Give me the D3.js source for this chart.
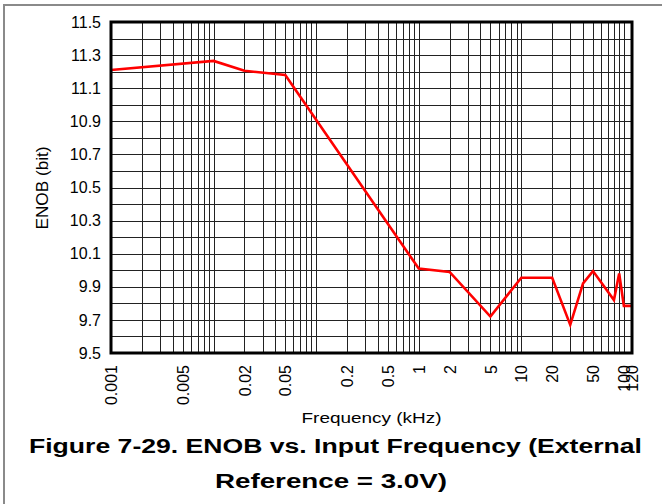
<!DOCTYPE html>
<html>
<head>
<meta charset="utf-8">
<script src="https://cdn.jsdelivr.net/npm/d3@7"></script>
<style>
  body { margin: 0; background: #fff; }
  svg { display: block; font-family: "Liberation Sans", Arial, sans-serif; }
  .tick line { display: none; }
  .domain { display: none; }
</style>
</head>
<body>
<div id="chart"></div>
<script>
// data
var freqKHz = [0.001, 0.01, 0.02, 0.05, 1, 2, 5, 10, 20, 30, 40, 50, 80, 90, 100, 120];
var enobBits = [11.21, 11.265, 11.205, 11.18, 10.01, 9.99, 9.72, 9.955, 9.955, 9.67, 9.92, 9.995, 9.82, 9.98, 9.785, 9.785];

// tick labels
var xTickValues = [0.001, 0.005, 0.02, 0.05, 0.2, 0.5, 1, 2, 5, 10, 20, 50, 100, 120];
var xTickLabels = ["0.001", "0.005", "0.02", "0.05", "0.2", "0.5", "1", "2", "5", "10", "20", "50", "100", "120"];
var yTickValues = [9.5, 9.7, 9.9, 10.1, 10.3, 10.5, 10.7, 10.9, 11.1, 11.3, 11.5];

//svg size
var svgWidth = 662;
var svgHeight = 504;
var plot = { left: 111, top: 22, right: 632, bottom: 353 };

var svg = d3.select("#chart")
    .append("svg")
    .attr("width", svgWidth)
    .attr("height", svgHeight);

//outer frame (top + left only)
svg.append("path")
    .attr("d", "M4,504 V5 H662")
    .attr("fill", "none")
    .attr("stroke", "#8a8a8a")
    .attr("stroke-width", 2);

//scales
var xScale = d3.scaleLog()
    .domain([0.001, 120])
    .range([plot.left, plot.right]);
var yScale = d3.scaleLinear()
    .domain([9.5, 11.5])
    .range([plot.bottom, plot.top]);

//grid
var grid = svg.append("g")
    .attr("stroke", "#222")
    .attr("stroke-width", 1)
    .attr("shape-rendering", "crispEdges");
grid.selectAll(".vgrid")
    .data(xScale.ticks())
    .enter()
    .append("line")
    .attr("x1", d => Math.round(xScale(d)) + 0.5)
    .attr("x2", d => Math.round(xScale(d)) + 0.5)
    .attr("y1", plot.top)
    .attr("y2", plot.bottom);
grid.selectAll(".hgrid")
    .data(d3.range(95, 116).map(d => d / 10))
    .enter()
    .append("line")
    .attr("x1", plot.left)
    .attr("x2", plot.right)
    .attr("y1", d => Math.round(yScale(d)) + 0.5)
    .attr("y2", d => Math.round(yScale(d)) + 0.5);

//data line
var line = d3.line()
    .x((d, i) => xScale(freqKHz[i]))
    .y(d => yScale(d));
svg.append("path")
    .datum(enobBits)
    .attr("d", line)
    .attr("fill", "none")
    .attr("stroke", "#ff0000")
    .attr("stroke-width", 2.6)
    .attr("stroke-linejoin", "miter");

//plot border
svg.append("rect")
    .attr("x", plot.left)
    .attr("y", plot.top)
    .attr("width", plot.right - plot.left)
    .attr("height", plot.bottom - plot.top)
    .attr("fill", "none")
    .attr("stroke", "#000")
    .attr("stroke-width", 3);

//y axis labels
var yAxis = d3.axisLeft(yScale)
    .tickValues(yTickValues)
    .tickFormat(d3.format(".1f"))
    .tickSize(0)
    .tickPadding(0);
svg.append("g")
    .attr("transform", `translate(101, 0)`)
    .call(yAxis)
    .selectAll("text")
    .attr("font-size", 16)
    .attr("font-family", "Liberation Sans, Arial, sans-serif")
    .attr("fill", "#000");

//x axis labels, rotated
var xAxis = d3.axisBottom(xScale)
    .tickValues(xTickValues)
    .tickFormat((d, i) => xTickLabels[i])
    .tickSize(0)
    .tickPadding(0);
svg.append("g")
    .attr("transform", `translate(0, ${plot.bottom})`)
    .call(xAxis)
    .selectAll("text")
    .attr("font-size", 16)
    .attr("font-family", "Liberation Sans, Arial, sans-serif")
    .attr("fill", "#000")
    .attr("text-anchor", "end")
    .attr("dy", "0.35em")
    .attr("y", 0)
    .attr("transform", "translate(0, 12) rotate(-90)");

//axis titles
svg.append("text")
    .attr("transform", "translate(48, 188) rotate(-90)")
    .attr("text-anchor", "middle")
    .attr("font-size", 16)
    .attr("textLength", 83)
    .attr("lengthAdjust", "spacingAndGlyphs")
    .text("ENOB (bit)");
svg.append("text")
    .attr("x", (plot.left + plot.right) / 2)
    .attr("y", 423)
    .attr("text-anchor", "middle")
    .attr("font-size", 15)
    .attr("textLength", 140)
    .attr("lengthAdjust", "spacingAndGlyphs")
    .text("Frequency (kHz)");

//caption
svg.append("text")
    .attr("x", 29)
    .attr("y", 453)
    .attr("font-size", 20)
    .attr("font-weight", "bold")
    .attr("textLength", 613)
    .attr("lengthAdjust", "spacingAndGlyphs")
    .text("Figure 7-29. ENOB vs. Input Frequency (External");
svg.append("text")
    .attr("x", 215)
    .attr("y", 488)
    .attr("font-size", 20)
    .attr("font-weight", "bold")
    .attr("textLength", 232)
    .attr("lengthAdjust", "spacingAndGlyphs")
    .text("Reference = 3.0V)");
</script>
</body>
</html>
